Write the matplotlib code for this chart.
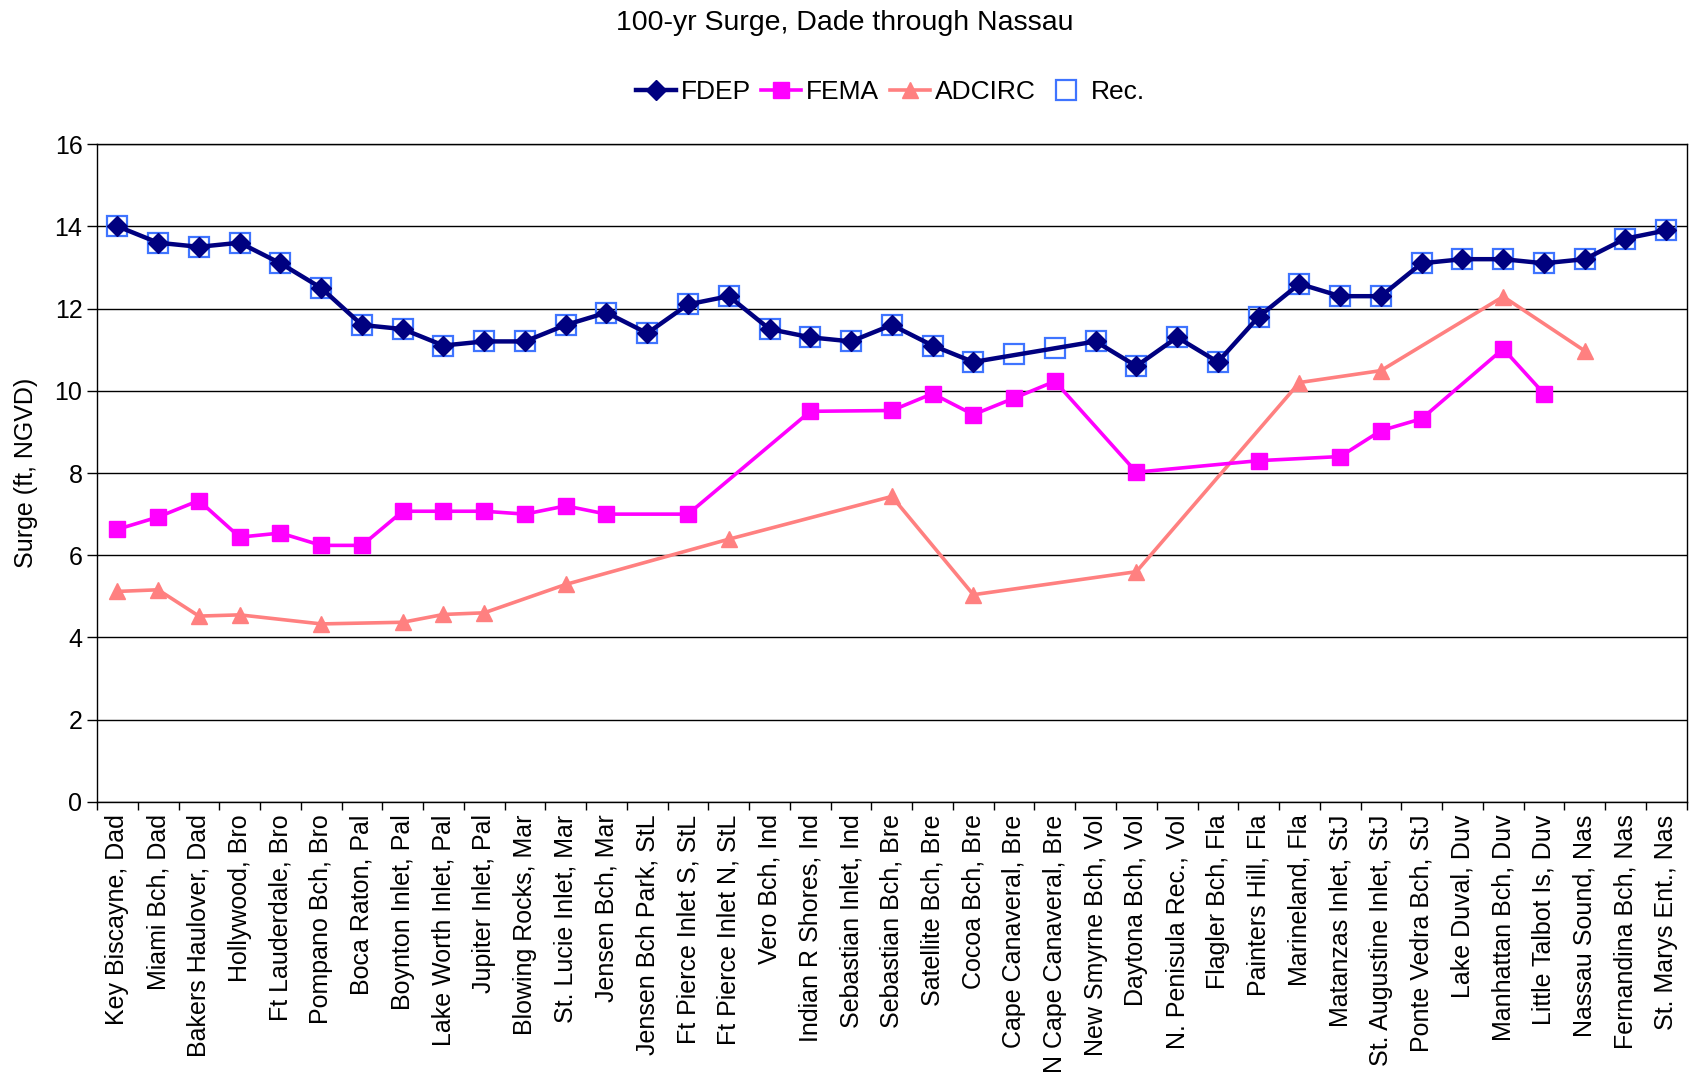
import numpy as np
import matplotlib.pyplot as plt

plt.rcParams['font.family'] = ['Liberation Sans', 'DejaVu Sans']

# station names along the coast, south to north
stations = [
    'Key Biscayne, Dad', 'Miami Bch, Dad', 'Bakers Haulover, Dad', 'Hollywood, Bro',
    'Ft Lauderdale, Bro', 'Pompano Bch, Bro', 'Boca Raton, Pal', 'Boynton Inlet, Pal',
    'Lake Worth Inlet, Pal', 'Jupiter Inlet, Pal', 'Blowing Rocks, Mar', 'St. Lucie Inlet, Mar',
    'Jensen Bch, Mar', 'Jensen Bch Park, StL', 'Ft Pierce Inlet S, StL', 'Ft Pierce Inlet N, StL',
    'Vero Bch, Ind', 'Indian R Shores, Ind', 'Sebastian Inlet, Ind', 'Sebastian Bch, Bre',
    'Satellite Bch, Bre', 'Cocoa Bch, Bre', 'Cape Canaveral, Bre', 'N Cape Canaveral, Bre',
    'New Smyrne Bch, Vol', 'Daytona Bch, Vol', 'N. Penisula Rec., Vol', 'Flagler Bch, Fla',
    'Painters Hill, Fla', 'Marineland, Fla', 'Matanzas Inlet, StJ', 'St. Augustine Inlet, StJ',
    'Ponte Vedra Bch, StJ', 'Lake Duval, Duv', 'Manhattan Bch, Duv', 'Little Talbot Is, Duv',
    'Nassau Sound, Nas', 'Fernandina Bch, Nas', 'St. Marys Ent., Nas',
]

nan = np.nan
fdep = [14.0, 13.6, 13.5, 13.6, 13.1, 12.5, 11.6, 11.5, 11.1, 11.2, 11.2, 11.6, 11.9,
        11.4, 12.1, 12.3, 11.5, 11.3, 11.2, 11.6, 11.1, 10.7, nan, nan, 11.2, 10.6,
        11.3, 10.7, 11.8, 12.6, 12.3, 12.3, 13.1, 13.2, 13.2, 13.1, 13.2, 13.7, 13.9]
fema = [6.63, 6.93, 7.33, 6.44, 6.54, 6.24, 6.24, 7.07, 7.07, 7.07, 7.0, 7.2, 7.0,
        nan, 7.0, nan, nan, 9.5, nan, 9.52, 9.93, 9.42, 9.82, 10.23, nan, 8.02,
        nan, nan, 8.3, nan, 8.4, 9.03, 9.32, nan, 11.02, 9.93, nan, nan, nan]
adcirc = [5.12, 5.16, 4.52, 4.55, nan, 4.33, nan, 4.37, 4.56, 4.6, nan, 5.29, nan,
          nan, nan, 6.39, nan, nan, nan, 7.43, nan, 5.04, nan, nan, nan, 5.6,
          nan, nan, nan, 10.2, nan, 10.49, nan, nan, 12.29, nan, 10.97, nan, nan]
rec = [14.0, 13.6, 13.5, 13.6, 13.1, 12.5, 11.6, 11.5, 11.1, 11.2, 11.2, 11.6, 11.9,
       11.4, 12.1, 12.3, 11.5, 11.3, 11.2, 11.6, 11.1, 10.7, 10.9, 11.05, 11.2, 10.6,
       11.3, 10.7, 11.8, 12.6, 12.3, 12.3, 13.1, 13.2, 13.2, 13.1, 13.2, 13.7, 13.9]

x = np.arange(len(stations))

fig = plt.figure(figsize=(16.9, 10.83), dpi=100)
ax = fig.add_axes([0.0574, 0.2595, 0.9406, 0.6075])


def connected(vals):
    # Excel style: gaps are bridged by the line
    v = np.array(vals, dtype=float)
    m = ~np.isnan(v)
    return x[m], v[m]


xs, ys = connected(rec)
ax.plot(xs, ys, ls='none', marker='s', ms=15, mfc='none', mec='#3f74ff', mew=1.6,
        label='Rec.', zorder=3)
xs, ys = connected(adcirc)
ax.plot(xs, ys, color='#ff8080', lw=2.6, marker='^', ms=12, label='ADCIRC', zorder=4)
xs, ys = connected(fema)
ax.plot(xs, ys, color='#ff00ff', lw=2.6, marker='s', ms=11, label='FEMA', zorder=5)
xs, ys = connected(fdep)
ax.plot(xs, ys, color='#000080', lw=3.2, marker='D', ms=10, label='FDEP', zorder=6)

ax.set_xlim(-0.5, len(stations) - 0.5)
ax.set_ylim(0, 16)
ax.set_yticks(range(0, 17, 2))
ax.yaxis.grid(True, color='black', lw=1)
ax.set_axisbelow(True)

ax.set_xticks(x)
ax.set_xticklabels(stations, rotation=90, fontsize=18)
ax.set_xticks(np.arange(-0.5, len(stations), 1), minor=True)
ax.tick_params(axis='x', which='major', length=0, pad=9)
ax.tick_params(axis='x', which='minor', length=6, width=1, direction='out')
ax.tick_params(axis='y', labelsize=18, length=7, width=1, direction='out')

for s in ax.spines.values():
    s.set_color('black')
    s.set_linewidth(1)

ax.set_ylabel('Surge (ft, NGVD)', fontsize=18, labelpad=12)
fig.text(0.5, 0.979, '100-yr Surge, Dade through Nassau', fontsize=20.5,
         ha='center', va='center')

h, l = ax.get_legend_handles_labels()
order = [3, 2, 1, 0]
fig.legend([h[i] for i in order], [l[i] for i in order], loc='center',
           bbox_to_anchor=(0.527, 0.915), ncol=4, frameon=False, fontsize=19,
           handlelength=1.5, handletextpad=0.2, columnspacing=0.4)

fig.savefig('out.png', dpi=100)
